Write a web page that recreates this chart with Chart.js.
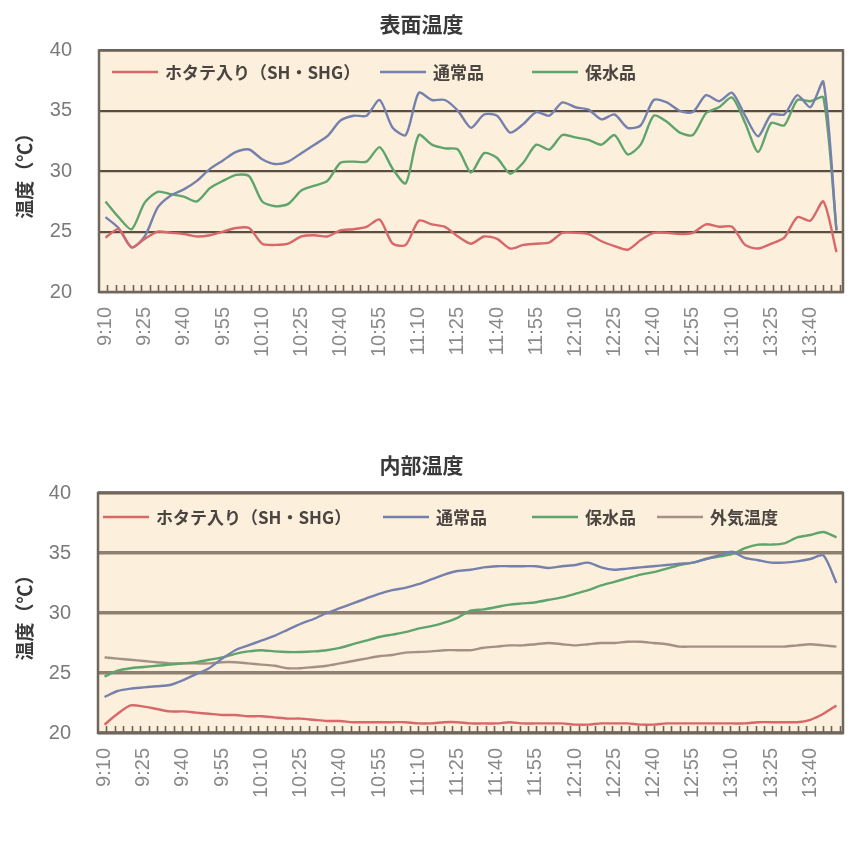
<!DOCTYPE html>
<html>
<head>
<meta charset="utf-8">
<script src="https://cdn.jsdelivr.net/npm/chart.js@4.4.1/dist/chart.umd.min.js"></script>
<style>
  html, body { margin: 0; padding: 0; background: #ffffff; }
  #wrap { width: 865px; height: 857px; position: relative; overflow: hidden; }
  canvas { display: block; }
</style>
</head>
<body>
<div id="wrap">
  <canvas id="c1" width="865" height="430"></canvas>
  <canvas id="c2" width="865" height="427"></canvas>
</div>
<script>
// ---------- data ----------
const timeLabels = ['9:10','9:15','9:20','9:25','9:30','9:35','9:40','9:45','9:50','9:55',
  '10:00','10:05','10:10','10:15','10:20','10:25','10:30','10:35','10:40','10:45',
  '10:50','10:55','11:00','11:05','11:10','11:15','11:20','11:25','11:30','11:35',
  '11:40','11:45','11:50','11:55','12:00','12:05','12:10','12:15','12:20','12:25',
  '12:30','12:35','12:40','12:45','12:50','12:55','13:00','13:05','13:10','13:15',
  '13:20','13:25','13:30','13:35','13:40','13:45','13:50'];

const seriesNames = ['ホタテ入り（SH・SHG）', '通常品', '保水品', '外気温度'];

const surfaceScallop = [24.5,25.2,23.7,24.4,25.0,24.9,24.8,24.6,24.7,25.0,
  25.3,25.3,24.0,23.9,24.0,24.6,24.7,24.6,25.1,25.2,
  25.4,26.0,24.0,23.9,25.9,25.6,25.4,24.6,24.0,24.6,
  24.4,23.6,23.9,24.0,24.1,24.9,24.9,24.8,24.2,23.8,
  23.5,24.3,24.9,24.9,24.8,24.9,25.6,25.4,25.4,23.9,
  23.6,24.0,24.5,26.2,25.9,27.5,23.3];
const surfaceNormal = [26.2,25.3,23.7,24.6,27.0,28.0,28.5,29.2,30.2,30.9,
  31.6,31.8,31.0,30.6,30.8,31.5,32.2,32.9,34.2,34.6,
  34.6,35.9,33.6,33.0,36.5,35.9,35.9,35.0,33.6,34.7,
  34.6,33.2,33.9,34.9,34.6,35.7,35.3,35.1,34.3,34.7,
  33.6,33.8,35.9,35.7,35.0,34.9,36.3,35.8,36.5,34.6,
  32.9,34.7,34.7,36.3,35.3,37.4,25.1];
const surfaceRetain = [27.5,26.2,25.2,27.4,28.3,28.1,27.9,27.5,28.6,29.2,
  29.7,29.6,27.5,27.1,27.3,28.4,28.8,29.2,30.7,30.8,
  30.8,32.0,30.2,29.0,33.0,32.2,31.9,31.8,29.9,31.5,
  31.1,29.8,30.7,32.2,31.8,33.0,32.8,32.6,32.2,33.0,
  31.4,32.2,34.6,34.1,33.2,33.0,34.8,35.3,36.1,34.0,
  31.6,34.0,33.8,35.9,35.8,36.1,25.1];

const innerScallop = [20.7,21.6,22.3,22.2,22.0,21.8,21.8,21.7,21.6,21.5,
  21.5,21.4,21.4,21.3,21.2,21.2,21.1,21.0,21.0,20.9,
  20.9,20.9,20.9,20.9,20.8,20.8,20.9,20.9,20.8,20.8,
  20.8,20.9,20.8,20.8,20.8,20.8,20.7,20.7,20.8,20.8,
  20.8,20.7,20.7,20.8,20.8,20.8,20.8,20.8,20.8,20.8,
  20.9,20.9,20.9,20.9,21.1,21.6,22.3];
const innerNormal = [23.0,23.5,23.7,23.8,23.9,24.0,24.4,24.9,25.4,26.2,
  26.9,27.3,27.7,28.1,28.6,29.1,29.5,30.0,30.4,30.8,
  31.2,31.6,31.9,32.1,32.4,32.8,33.2,33.5,33.6,33.8,
  33.9,33.9,33.9,33.9,33.75,33.9,34.0,34.2,33.8,33.6,
  33.7,33.8,33.9,34.0,34.1,34.2,34.5,34.8,35.1,34.6,
  34.4,34.2,34.2,34.3,34.5,34.8,32.5];
const innerRetain = [24.7,25.2,25.4,25.5,25.6,25.7,25.8,25.9,26.1,26.3,
  26.6,26.8,26.9,26.8,26.75,26.75,26.8,26.9,27.1,27.4,
  27.7,28.0,28.2,28.4,28.7,28.9,29.2,29.6,30.2,30.3,
  30.5,30.7,30.8,30.9,31.1,31.3,31.6,31.9,32.3,32.6,
  32.9,33.2,33.4,33.7,34.0,34.2,34.5,34.7,34.9,35.4,
  35.7,35.7,35.8,36.3,36.5,36.75,36.3];
const outsideAir = [26.3,26.2,26.1,26.0,25.9,25.8,25.8,25.8,25.8,25.9,
  25.9,25.8,25.7,25.6,25.4,25.4,25.5,25.6,25.8,26.0,
  26.2,26.4,26.5,26.7,26.75,26.8,26.9,26.9,26.9,27.1,
  27.2,27.3,27.3,27.4,27.5,27.4,27.3,27.4,27.5,27.5,
  27.6,27.6,27.5,27.4,27.2,27.2,27.2,27.2,27.2,27.2,
  27.2,27.2,27.2,27.3,27.4,27.3,27.2];

const yMin = 20, yMax = 40, yStep = 5;

// ---------- styles ----------
const COLORS = ['#d8676a', '#7580ad', '#5ea46c', '#a39283'];
const CJK = '"Noto Sans CJK JP", "Noto Sans", sans-serif';
const LAT = '"Liberation Sans", Arial, sans-serif';

const framePlugin = {
  id: 'frame',
  beforeDraw(chart) {
    const a = chart.chartArea, ctx = chart.ctx;
    ctx.save();
    ctx.fillStyle = '#fcefdc';
    ctx.fillRect(a.left, a.top, a.right - a.left, a.bottom - a.top);
    ctx.restore();
  },
  afterDraw(chart, args, opts) {
    const a = chart.chartArea, ctx = chart.ctx, xs = chart.scales.x;
    ctx.save();
    // minor tick marks along bottom, inside plot
    ctx.strokeStyle = '#6d6157';
    ctx.lineWidth = 1.6;
    const n = chart.data.labels.length;
    for (let v = -0.5 + opts.minorStep; v < n - 0.5 - 0.1; v += opts.minorStep) {
      const px = Math.round(xs.getPixelForValue(v)) + 0.5;
      ctx.beginPath();
      ctx.moveTo(px, a.bottom);
      ctx.lineTo(px, a.bottom - 7);
      ctx.stroke();
    }
    // frame
    ctx.strokeStyle = '#6f675e';
    ctx.lineWidth = 2.5;
    ctx.strokeRect(a.left, a.top, a.right - a.left, a.bottom - a.top);
    // legend inside plot area
    ctx.font = 'bold 17px ' + CJK;
    ctx.textBaseline = 'middle';
    ctx.textAlign = 'left';
    const ly = a.top + opts.legendDy;
    chart.data.datasets.forEach((ds, i) => {
      const x0 = a.left + opts.legendX[i];
      ctx.strokeStyle = ds.borderColor;
      ctx.lineWidth = 2.5;
      ctx.beginPath();
      ctx.moveTo(x0, ly);
      ctx.lineTo(x0 + 46, ly);
      ctx.stroke();
      ctx.fillStyle = '#4a4540';
      ctx.fillText(ds.label, x0 + 53, ly + 1);
    });
    ctx.restore();
  }
};

function makeChart(id, titleText, seriesList, cfg) {
  const datasets = seriesList.map((s, i) => ({
    label: seriesNames[s.name],
    data: s.data,
    borderColor: COLORS[s.name],
    backgroundColor: COLORS[s.name],
    borderWidth: 2.4,
    pointRadius: 0,
    tension: 0.25,
    fill: false
  }));
  return new Chart(document.getElementById(id), {
    type: 'line',
    data: { labels: timeLabels, datasets },
    options: {
      responsive: false,
      animation: false,
      devicePixelRatio: 1,
      layout: { padding: { left: 0, right: 22, top: 0, bottom: cfg.padBottom } },
      plugins: {
        legend: { display: false },
        tooltip: { enabled: false },
        title: {
          display: true,
          text: titleText,
          color: '#3a3a3a',
          font: { family: CJK, size: 21, weight: 'bold' },
          padding: { top: cfg.titleTop, bottom: cfg.titleBottom }
        },
        frame: { minorStep: 0.645, legendX: cfg.legendX, legendDy: cfg.legendDy }
      },
      scales: {
        x: {
          type: 'category',
          offset: true,
          grid: { display: false, drawTicks: false },
          border: { display: false },
          ticks: {
            autoSkip: false,
            minRotation: 90,
            maxRotation: 90,
            padding: 15,
            color: '#8a8a8a',
            font: { family: LAT, size: 20 },
            callback: (v, i) => (i % 3 === 0 ? timeLabels[i] : '')
          },
          afterFit: (s) => { s.height = 80; s.paddingLeft = 0; s.paddingRight = 0; }
        },
        y: {
          min: yMin, max: yMax,
          grid: { color: cfg.gridColor, lineWidth: cfg.gridWidth, drawTicks: false },
          border: { display: false },
          ticks: {
            stepSize: yStep,
            padding: 27,
            color: '#7a7a7a',
            font: { family: LAT, size: 20 }
          },
          title: {
            display: true,
            text: '温度（℃）',
            color: '#3a3a3a',
            font: { family: CJK, size: 19, weight: 'bold' },
            padding: { top: 13, bottom: 0 }
          },
          afterFit: (s) => { s.width = cfg.yWidth; }
        }
      }
    },
    plugins: [framePlugin]
  });
}

makeChart('c1', '表面温度', [
  { name: 0, data: surfaceScallop },
  { name: 1, data: surfaceNormal },
  { name: 2, data: surfaceRetain }
], { padBottom: 58, titleTop: 11, titleBottom: 14.3, gridColor: '#5b4d40', gridWidth: 2.2,
     yWidth: 99, legendX: [13, 281, 433], legendDy: 21.5 });

makeChart('c2', '内部温度', [
  { name: 0, data: innerScallop },
  { name: 1, data: innerNormal },
  { name: 2, data: innerRetain },
  { name: 3, data: outsideAir }
], { padBottom: 44, titleTop: 22.4, titleBottom: 15.4, gridColor: '#8f8172', gridWidth: 3.5,
     yWidth: 98, legendX: [5, 285, 434, 559], legendDy: 24 });
</script>
</body>
</html>
